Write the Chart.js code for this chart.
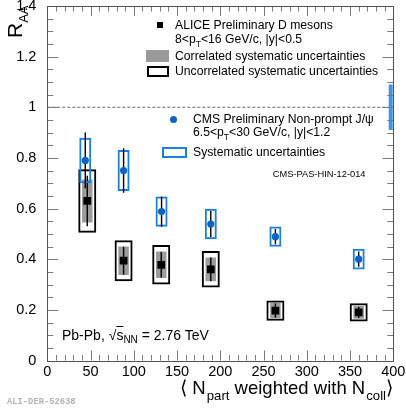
<!DOCTYPE html>
<html>
<head>
<meta charset="utf-8">
<script src="https://cdn.jsdelivr.net/npm/chart.js@4.4.0/dist/chart.umd.min.js"></script>
<style>
html, body { margin: 0; padding: 0; background: #fff; }
#wrap { position: relative; width: 406px; height: 416px; font-family: "Liberation Sans", Arial, sans-serif; color: #000; overflow: hidden; }
#wrap canvas { position: absolute; left: 0; top: 0; }
.t { position: absolute; white-space: nowrap; line-height: 1; }
.lg { font-size: 12.2px; }
.mk { position: absolute; box-sizing: border-box; }
.st { font-size: 8.5px; position: relative; top: 4px; }
.sb { font-size: 13.2px; position: relative; top: 6px; margin-left: 1px; }
</style>
</head>
<body>
<div id="wrap">
  <canvas id="c" width="406" height="416" style="width:406px;height:416px"></canvas>

  <!-- legend, ALICE -->
  <div class="mk" style="left:156.5px;top:21.5px;width:6px;height:6px;background:#000"></div>
  <div class="t lg" style="left:175px;top:18.5px">ALICE Preliminary D mesons</div>
  <div class="t lg" style="left:175px;top:32.5px">8&lt;p<span class="st">T</span>&lt;16 GeV/c, |y|&lt;0.5</div>
  <div class="mk" style="left:146px;top:50px;width:23px;height:12px;background:#999"></div>
  <div class="t lg" style="left:175px;top:50px">Correlated systematic uncertainties</div>
  <div class="mk" style="left:147px;top:66px;width:22px;height:11px;border:2px solid #000"></div>
  <div class="t lg" style="left:175px;top:65px">Uncorrelated systematic uncertainties</div>

  <!-- legend, CMS -->
  <div class="mk" style="left:170px;top:115.5px;width:7px;height:7px;border-radius:50%;background:#0b63c5"></div>
  <div class="t lg" style="left:193px;top:112.5px">CMS Preliminary Non-prompt J/ψ</div>
  <div class="t lg" style="left:193px;top:126px">6.5&lt;p<span class="st">T</span>&lt;30 GeV/c, |y|&lt;1.2</div>
  <div class="mk" style="left:162px;top:146.5px;width:25px;height:11.5px;border:2px solid #1c7fe0"></div>
  <div class="t lg" style="left:193px;top:146px">Systematic uncertainties</div>
  <div class="t" style="left:272.7px;top:169.5px;font-size:9.3px">CMS-PAS-HIN-12-014</div>

  <div class="t" style="left:62px;top:328px;font-size:14px">Pb-Pb, √<span style="text-decoration:overline">s</span><span style="font-size:10px;position:relative;top:3px">NN</span> = 2.76 TeV</div>

  <!-- axis titles -->
  <div class="t" style="left:4.2px;top:37.5px;font-size:21px;transform:rotate(-90deg);transform-origin:0 0">R<span style="font-size:13px;position:relative;top:6px">AA</span></div>
  <div class="t" style="right:13px;top:379px;font-size:18.5px">⟨ N<span class="sb">part</span> weighted with N<span class="sb">coll</span>⟩</div>

  <div class="t" style="left:7px;top:398px;font-size:8.8px;font-family:'Liberation Mono',monospace;font-weight:bold;color:#b4b4b4">ALI-DER-52638</div>
</div>

<script>
// ALICE D mesons, 8<pT<16 GeV/c
const npartAlice = [46.2, 88.2, 131.7, 189.0, 263.7, 360.0]
const raaAlice = [0.63, 0.394, 0.378, 0.36, 0.197, 0.19]
const statAlice = [0.10, 0.055, 0.05, 0.047, 0.028, 0.022]
const corrSystAlice = [0.085, 0.056, 0.052, 0.047, 0.03, 0.025]
const uncorrSystAlice = [0.125, 0.081, 0.078, 0.072, 0.04, 0.036]

// CMS non-prompt J/psi, 6.5<pT<30 GeV/c
const npartCms = [43.9, 88.2, 132.1, 189.0, 263.7, 360.0]
const raaCms = [0.79, 0.75, 0.588, 0.539, 0.489, 0.40]
const statCms = [0.11, 0.088, 0.06, 0.051, 0.03, 0.03]
const systCms = [0.09, 0.081, 0.06, 0.06, 0.04, 0.041]

// CMS global uncertainty band drawn at the right edge
const cmsGlobalNpart = [397]
const cmsGlobalRange = [[0.91, 1.09]]

const unityLine = 1

const xTicks = [0, 50, 100, 150, 200, 250, 300, 350, 400]
const xTickLabels = ["0", "50", "100", "150", "200", "250", "300", "350", "400"]
const yTicks = [0, 0.2, 0.4, 0.6, 0.8, 1.0, 1.2, 1.4]
const yTickLabels = ["0", "0.2", "0.4", "0.6", "0.8", "1", "1.2", "1.4"]

const band = (xs, ys, es) => xs.map((x, i) => ({ x: x, y: [ys[i] - es[i], ys[i] + es[i]] }))
const points = (xs, ys) => xs.map((x, i) => ({ x: x, y: ys[i] }))

function box(data, thickness, fill, stroke, width, order) {
    return {
        type: "bar",
        data: data,
        barThickness: thickness,
        grouped: false,
        backgroundColor: fill,
        borderColor: stroke,
        borderWidth: width,
        borderSkipped: false,
        inflateAmount: 0,
        order: order
    }
}

// ROOT style frame with inward ticks on all four sides
const frameTicks = {
    id: "frameTicks",
    afterDatasetsDraw(chart) {
        const { ctx, chartArea: a, scales: { x, y } } = chart
        ctx.save()
        ctx.lineWidth = 1
        ctx.strokeStyle = "#7a7a7a"
        ctx.beginPath()
        for (let v = 0; v <= 400; v += 10) {
            const px = Math.round(x.getPixelForValue(v)) + 0.5
            const len = v % 50 === 0 ? 10 : 5.5
            ctx.moveTo(px, a.bottom); ctx.lineTo(px, a.bottom - len)
            ctx.moveTo(px, a.top); ctx.lineTo(px, a.top + len)
        }
        for (let i = 0; i <= 28; i++) {
            const py = Math.round(y.getPixelForValue(i * 0.05)) + 0.5
            const len = i % 4 === 0 ? 11 : 6
            ctx.moveTo(a.left, py); ctx.lineTo(a.left + len, py)
            ctx.moveTo(a.right, py); ctx.lineTo(a.right - len, py)
        }
        ctx.stroke()
        ctx.strokeStyle = "#555"
        ctx.strokeRect(Math.round(a.left) + 0.5, Math.round(a.top) + 0.5, Math.round(a.right - a.left), Math.round(a.bottom - a.top))
        ctx.restore()
    }
}

new Chart(document.getElementById("c"), {
    type: "scatter",
    data: {
        datasets: [
            {
                type: "line",
                data: [{ x: 0, y: unityLine }, { x: 400, y: unityLine }],
                borderColor: "#6a6a6a",
                borderWidth: 1,
                borderDash: [3, 2],
                pointRadius: 0,
                order: 20
            },
            box(band(npartAlice, raaAlice, uncorrSystAlice), 18, "rgba(0,0,0,0)", "#000", 2, 19),
            box(band(npartAlice, raaAlice, corrSystAlice), 10.5, "#9c9c9c", "#9c9c9c", 0, 18),
            box(band(npartAlice, raaAlice, statAlice), 1.4, "#000", "#000", 0, 17),
            {
                data: points(npartAlice, raaAlice),
                pointStyle: "rect",
                pointRadius: 5.5,
                backgroundColor: "#000",
                borderWidth: 0,
                order: 16
            },
            box(band(npartCms, raaCms, systCms), 12, "rgba(0,0,0,0)", "#1c7fe0", 2, 15),
            box(band(npartCms, raaCms, statCms), 1.4, "#000", "#000", 0, 14),
            {
                data: points(npartCms, raaCms),
                pointStyle: "circle",
                pointRadius: 3.6,
                backgroundColor: "#0b63c5",
                borderWidth: 0,
                order: 13
            },
            box(cmsGlobalNpart.map((x, i) => ({ x: x, y: cmsGlobalRange[i] })), 4, "#3d95ee", "#3d95ee", 0, 12)
        ]
    },
    options: {
        responsive: false,
        animation: false,
        events: [],
        layout: { padding: { left: 0, right: 12.7, top: 6, bottom: 0 } },
        plugins: { legend: { display: false }, tooltip: { enabled: false } },
        scales: {
            x: {
                type: "linear",
                min: 0,
                max: 400,
                offset: false,
                grid: { display: false },
                border: { display: false },
                afterBuildTicks: s => { s.ticks = xTicks.map(v => ({ value: v })) },
                afterFit: s => { s.height = 55.5; s.paddingLeft = 0; s.paddingRight = 0 },
                ticks: {
                    autoSkip: false,
                    maxRotation: 0,
                    padding: -5,
                    color: "#000",
                    font: { family: "'Liberation Sans', Arial, sans-serif", size: 14.5 },
                    callback: (v, i) => xTickLabels[i]
                }
            },
            y: {
                type: "linear",
                min: 0,
                max: 1.4,
                grid: { display: false },
                border: { display: false },
                afterBuildTicks: s => { s.ticks = yTicks.map(v => ({ value: v })) },
                afterFit: s => { s.width = 47.3; s.paddingTop = 0; s.paddingBottom = 0 },
                ticks: {
                    autoSkip: false,
                    padding: 3,
                    color: "#000",
                    font: { family: "'Liberation Sans', Arial, sans-serif", size: 14.5 },
                    callback: (v, i) => yTickLabels[i]
                }
            }
        }
    },
    plugins: [frameTicks]
})
</script>
</body>
</html>
